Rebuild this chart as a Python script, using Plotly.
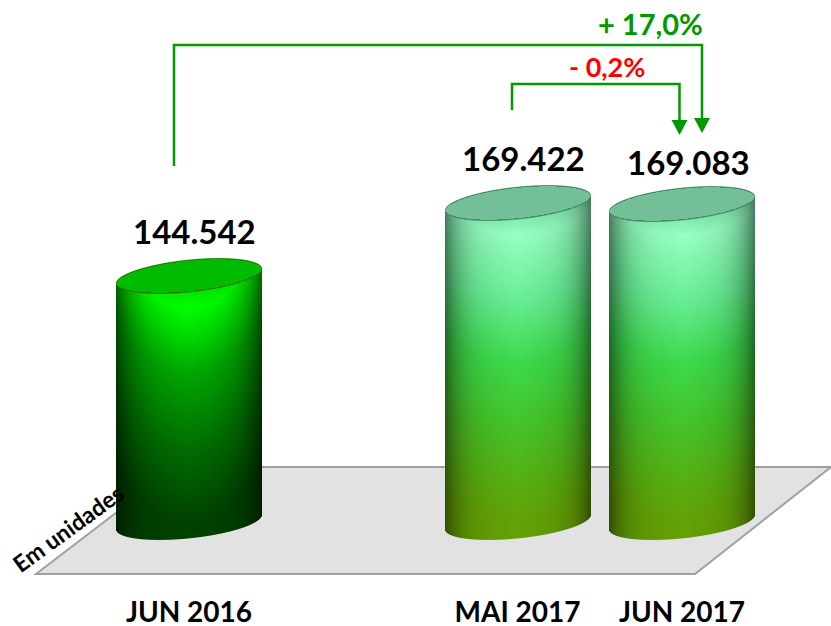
import numpy as np
import plotly.graph_objects as go

categories = ["JUN 2016", "MAI 2017", "JUN 2017"]
values = [144542, 169422, 169083]
value_labels = ["144.542", "169.422", "169.083"]
changes = ["+ 17,0%", "- 0,2%"]

W, H = 831, 626
PLOT_H = 590
CENTERS = [189, 517.5, 682]
BASE_PX = 522
SCALE = 73 / (169422 - 144542)      # px per unit
V0 = 144542 - 246 / SCALE           # value at baseline
y_top = V0 + BASE_PX / SCALE
y_bot = V0 - (PLOT_H - BASE_PX) / SCALE

DARK = dict(stops=[0, .04, .13, .4, .7, 1],
            r=[0, 0, 0, 0, 0, 0], g=[215, 225, 255, 165, 110, 66], b=[0, 0, 0, 0, 0, 0],
            top=(0, 188, 0), line=(45, 120, 10), edge=.45, radial=.22)
LIGHT = dict(stops=[0, .04, .1, .3, .5, .7, .9, 1],
             r=[120, 125, 150, 105, 60, 70, 90, 100],
             g=[225, 235, 255, 238, 218, 195, 172, 162],
             b=[160, 170, 195, 150, 75, 40, 15, 5],
             top=(115, 192, 152), line=(70, 140, 105), edge=.42, radial=.08)


def cylinder(value, style):
    rx, s, h = 73.0, 0.10, 16.4
    height = (value - V0) * SCALE
    pad = 24
    rows = int(np.ceil(height)) + 2 * pad
    cols = int(2 * rx) + 4
    img = np.zeros((rows, cols, 4), dtype=float)
    yy, xx = np.mgrid[0:rows, 0:cols]
    dx = xx + .5 - cols / 2
    py = yy + .5                       # rows measured downward
    ct = pad
    cb = pad + height
    u = np.clip(dx / rx, -1, 1)
    half = h * np.sqrt(1 - u ** 2)
    mid_top = ct - s * dx
    mid_bot = cb - s * dx
    t = np.clip((py - ct) / height + style["radial"] * u ** 2, 0, 1)
    f = 1 - style["edge"] * np.abs(u) ** 4.5 - .10 * np.abs(u)
    for i, c in enumerate("rgb"):
        img[..., i] = np.interp(t, style["stops"], style[c]) * f
    side = np.clip(rx - np.abs(dx) + .5, 0, 1)
    a = np.clip(mid_bot + half - py + .5, 0, 1) * np.clip(py - (mid_top - half) + .5, 0, 1) * side
    # top face
    d = half - np.abs(py - mid_top)
    face = np.clip(d + .5, 0, 1) * side
    for i in range(3):
        col = np.where(d < 1.3, style["line"][i], style["top"][i])
        img[..., i] = img[..., i] * (1 - face) + col * face
    img[..., 3] = a
    return img, pad, rows, cols


def px_y(py):
    return 1 - py / PLOT_H


fig = go.Figure()
GREEN = "#009900"

# floor
fig.add_shape(type="path", xref="x", yref="paper", layer="below",
              path=f"M36,{px_y(574)} L695,{px_y(574)} L831,{px_y(467)} L176,{px_y(467)} Z",
              fillcolor="#e2e2e2", line=dict(color="#a0a0a0", width=2))

for cat, val, cx, style in zip(categories, values, CENTERS, [DARK, LIGHT, LIGHT]):
    img, pad, rows, cols = cylinder(val, style)
    z = np.empty(img.shape, dtype=float)
    z[..., :3] = np.round(img[..., :3])
    z[..., 3] = img[..., 3]
    zflip = z[::-1]
    dy = 1 / SCALE
    fig.add_trace(go.Image(z=zflip.tolist(), colormodel="rgba",
                           x0=cx - cols / 2 + .5, dx=1,
                           y0=val + pad / SCALE - (rows - .5) * dy, dy=dy,
                           hoverinfo="skip", name=cat))


def bracket(points, tip):
    p = "M" + " L".join(f"{a},{px_y(b)}" for a, b in points)
    fig.add_shape(type="path", xref="x", yref="paper", path=p,
                  line=dict(color=GREEN, width=2.5))
    tx, ty = tip
    fig.add_shape(type="path", xref="x", yref="paper",
                  path=f"M{tx - 8},{px_y(ty - 15)} L{tx + 8},{px_y(ty - 15)} L{tx},{px_y(ty)} Z",
                  fillcolor=GREEN, line=dict(width=0))


bracket([(174, 166), (174, 45), (702, 45), (702, 120)], (702, 133))
bracket([(512, 110), (512, 84), (679.5, 84), (679.5, 122)], (679.5, 135))

FONT = "Lato"
annots = []
for lab, val, lx, shift in zip(value_labels, values, [194.5, 523.5, 688.5], [45, 45, 42]):
    annots.append(dict(x=lx, y=val, text=f"<b>{lab}</b>", showarrow=False, yshift=shift,
                       xanchor="center", yanchor="middle",
                       font=dict(family=FONT, size=33, color="black")))
annots.append(dict(x=650, y=px_y(23), yref="paper", yanchor="middle", text=f"<b>{changes[0]}</b>",
                   showarrow=False, font=dict(family=FONT, size=29, color=GREEN)))
annots.append(dict(x=607, y=px_y(67), yref="paper", yanchor="middle", text=f"<b>{changes[1]}</b>",
                   showarrow=False, font=dict(family=FONT, size=27, color="#ff0000")))
annots.append(dict(x=68, y=px_y(528), yref="paper", yanchor="middle", text="<b>Em unidades</b>",
                   showarrow=False, textangle=-36, font=dict(family=FONT, size=23, color="black")))

fig.update_layout(
    width=W, height=H, margin=dict(l=0, r=0, t=0, b=H - PLOT_H, pad=0, autoexpand=False),
    paper_bgcolor="white", plot_bgcolor="rgba(0,0,0,0)", showlegend=False,
    annotations=annots,
    xaxis=dict(range=[0, W], autorange=False, tickvals=CENTERS, ticktext=[f"<b>{c}</b>" for c in categories],
               showgrid=False, zeroline=False, showline=False, ticks="", ticklen=0, tickangle=0,
               ticklabelstandoff=3, automargin=False,
               tickfont=dict(family=FONT, size=28, color="black"), fixedrange=True,
               scaleanchor=False),
    yaxis=dict(range=[y_bot, y_top], visible=False, showgrid=False, zeroline=False,
               fixedrange=True, autorange=False, scaleanchor=False),
)
fig.write_html("out.html", config=dict(displayModeBar=False),
               post_script="document.body.style.margin='0';document.body.style.overflow='hidden';")
